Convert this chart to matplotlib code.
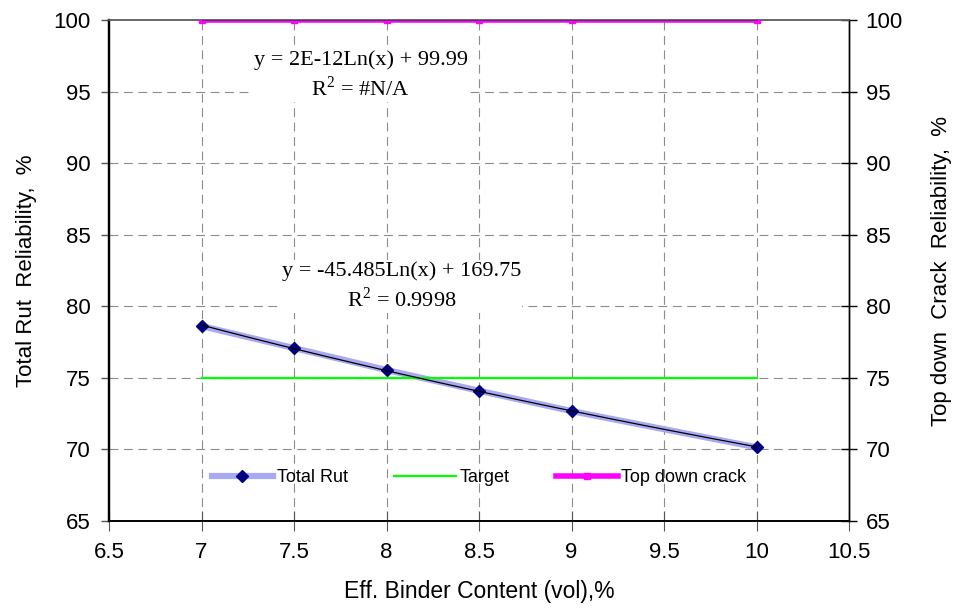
import numpy as np
from matplotlib import pyplot as plt
from matplotlib.ticker import FuncFormatter

plt.rcParams['font.family'] = ['Liberation Sans', 'DejaVu Sans']
plt.rcParams['mathtext.fontset'] = 'custom'
plt.rcParams['mathtext.rm'] = 'Liberation Serif'

# data
binder = [7, 7.5, 8, 8.5, 9, 10]
total_rut = [78.62, 77.08, 75.55, 74.1, 72.68, 70.15]
target_x = [7, 10]
target = [75, 75]
top_down = [100, 100, 100, 100, 100, 100]

x_ticks = [6.5, 7, 7.5, 8, 8.5, 9, 9.5, 10, 10.5]
y_ticks = [65, 70, 75, 80, 85, 90, 95, 100]


def log_fit(x, y):
    a, b = np.polyfit(np.log(x), y, 1)
    xx = np.linspace(min(x), max(x), 100)
    return xx, a * np.log(xx) + b


fig = plt.figure(figsize=(9.76, 6.16), dpi=100)
ax = fig.add_axes([0.1117, 0.1542, 0.7582, 0.8133])
ax2 = ax.twinx()

grid_kw = dict(color='#8c8c8c', lw=0.8, ls=(0, (8, 5)))
for xt in x_ticks[1:-1]:
    ax.axvline(xt, zorder=0, **grid_kw)
for yt in y_ticks[1:-1]:
    ax.axhline(yt, zorder=0, **grid_kw)

# Total Rut series + trend
l1, = ax.plot(binder, total_rut, color='#a9a9f2', lw=4.5, marker='D',
              ms=6, mfc='#000080', mec='#000080', label='Total Rut', zorder=3)
tx, ty = log_fit(binder, total_rut)
ax.plot(tx, ty, color='black', lw=0.9, zorder=4)

l2, = ax.plot(target_x, target, color='#00ff00', lw=1.6, label='Target', zorder=3)

# Top down crack on secondary axis
l3, = ax2.plot(binder, top_down, color='#ff00ff', lw=4, marker='s', ms=5,
               mfc='#ff00ff', mec='#ff00ff', label='Top down crack', zorder=3)
ax2.plot(binder, top_down, color='#404040', lw=0.6, zorder=4)

ax.text(8.08, 81.4, 'y = -45.485Ln(x) + 169.75\nR$^{\\mathrm{2}}$ = 0.9998',
        ha='center', va='center', multialignment='center', linespacing=1.3,
        family='Liberation Serif', fontsize=16,
        bbox=dict(facecolor='white', edgecolor='none', pad=1), zorder=2)
ax.text(7.86, 96.1, 'y = 2E-12Ln(x) + 99.99\nR$^{\\mathrm{2}}$ = #N/A',
        ha='center', va='center', multialignment='center', linespacing=1.3,
        family='Liberation Serif', fontsize=16,
        bbox=dict(facecolor='white', edgecolor='none', pad=1), zorder=2)

for a in (ax, ax2):
    a.set_xlim(6.5, 10.5)
    a.set_ylim(65, 100)
    a.set_yticks(y_ticks)
ax.set_xticks(x_ticks)
ax.xaxis.set_major_formatter(FuncFormatter(lambda v, p: f'{v:g}'))

ax.tick_params(axis='y', direction='out', length=6, width=1, color='#555555',
               labelsize=16, pad=7)
ax.tick_params(axis='x', direction='inout', length=14, width=0.8, color='#555555',
               labelsize=16, pad=8)
ax2.tick_params(axis='y', direction='inout', length=12, width=1, color='black',
                labelsize=16, pad=6)

for a in (ax, ax2):
    a.spines['top'].set_color('#666666')
    a.spines['top'].set_linewidth(1.2)
    a.spines['left'].set_linewidth(1.6)
    a.spines['bottom'].set_linewidth(1.2)
    a.spines['right'].set_linewidth(1.0)

ax.set_ylabel('Total Rut  Reliability,  %', fontsize=16, labelpad=12)
ax2.set_ylabel('Top down  Crack  Reliability,  %', fontsize=16, labelpad=20)
ax.set_xlabel('Eff. Binder Content (vol),%', fontsize=16.5, labelpad=12)

ax2.legend(handles=[l1, l2, l3], loc='center', bbox_to_anchor=(0.5, 0.086),
           ncol=3, frameon=False, fontsize=13, handlelength=3.4,
           handletextpad=0.2, columnspacing=2.6)

fig.savefig('out.png', dpi=100)
